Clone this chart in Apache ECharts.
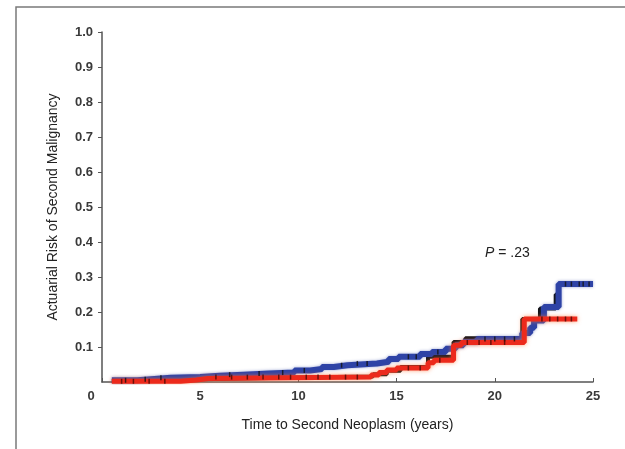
<!DOCTYPE html>
<html lang="en">
<head>
  <meta charset="UTF-8">
  <title>Second malignancy risk</title>
  <script src="https://cdn.jsdelivr.net/npm/echarts@6/dist/echarts.min.js"></script>
  <style>
    html, body {
      margin: 0;
      padding: 0;
      background: #fff;
    }

    #main {
      width: 625px;
      height: 449px;
    }
  </style>
</head>
<body>
<div id="main"></div>
<script>
  // step curves: time (years) where the level starts, and the level
  var blueTimes = [0.5, 1.8, 2.5, 3.5, 5.0, 6.0, 7.2, 8.5, 9.8, 10.6, 11.2, 11.8, 12.5, 14.0, 14.6, 15.1, 16.2, 16.8, 17.5, 18.0, 18.4, 19.1, 21.4, 21.8, 22.0, 22.5, 23.25, 25.0]
  var blueRisk = [0.005, 0.008, 0.012, 0.014, 0.018, 0.021, 0.024, 0.027, 0.033, 0.037, 0.043, 0.048, 0.053, 0.058, 0.066, 0.072, 0.080, 0.086, 0.095, 0.105, 0.114, 0.123, 0.140, 0.155, 0.176, 0.214, 0.280, 0.280]

  var redTimes = [0.5, 4.0, 4.8, 5.4, 13.7, 14.1, 14.5, 15.0, 16.6, 16.9, 17.9, 18.3, 21.5, 24.2]
  var redRisk = [0.002, 0.006, 0.010, 0.014, 0.020, 0.027, 0.034, 0.040, 0.055, 0.062, 0.105, 0.113, 0.180, 0.180]

  var blackTimes = [0.5, 4.0, 5.0, 10.0, 13.8, 14.5, 15.2, 16.6, 17.9, 18.5, 21.4, 22.3, 23.1, 23.3]
  var blackRisk = [0.003, 0.008, 0.013, 0.016, 0.022, 0.032, 0.043, 0.072, 0.114, 0.125, 0.180, 0.210, 0.250, 0.250]

  // censor marks (years)
  var blueCensor = [1.2, 2.2, 3.0, 6.5, 8.0, 9.2, 10.3, 12.2, 13.0, 13.5, 15.6, 16.0, 17.1, 19.5, 20.0, 20.5, 21.0, 23.6, 23.9, 24.3, 24.5, 24.8]
  var redCensor = [1.0, 1.6, 2.4, 3.2, 5.8, 6.6, 7.4, 8.2, 9.0, 9.6, 10.4, 11.0, 11.6, 12.4, 13.0, 15.6, 16.2, 17.2, 18.6, 19.2, 19.8, 20.5, 22.4, 22.8, 23.2, 23.6, 23.9]

  var xTicks = [0, 5, 10, 15, 20, 25]
  var yTicks = [0.1, 0.2, 0.3, 0.4, 0.5, 0.6, 0.7, 0.8, 0.9, 1.0]

  function pairs(times, risk) {
    var out = []
    for (var i = 0; i < times.length; i++) {
      out.push([times[i], risk[i]])
    }
    return out
  }

  // level of a step curve at time t
  function levelAt(times, risk, t) {
    var v = risk[0]
    for (var i = 0; i < times.length; i++) {
      if (times[i] <= t) v = risk[i]
    }
    return v
  }

  function censorPoints(list, times, risk) {
    return list.map(function (t) {
      return [t, levelAt(times, risk, t)]
    })
  }

  var myChart = echarts.init(document.getElementById('main'))

  var fontName = 'Liberation Sans, Arial, sans-serif'
  var labelFont = {
    fontFamily: fontName,
    fontSize: 13,
    fontWeight: 'bold',
    color: '#3a3a3a'
  }

  var option = {
    animation: false,
    backgroundColor: '#fff',
    grid: {
      left: 102,
      right: 32,
      top: 32,
      bottom: 67
    },
    graphic: [
      {
        type: 'rect',
        shape: {x: 16, y: 7, width: 700, height: 600},
        style: {fill: 'none', stroke: '#7a7a7a', lineWidth: 1.5},
        silent: true
      },
      {
        type: 'text',
        left: 485,
        top: 246,
        style: {
          text: '{i|P} = .23',
          fontFamily: fontName,
          fontSize: 14,
          fill: '#222',
          rich: {
            i: {fontStyle: 'italic', fontSize: 14, fontFamily: fontName, color: '#222'}
          }
        }
      }
    ],
    xAxis: {
      type: 'value',
      min: 0,
      max: 25,
      interval: 5,
      name: 'Time to Second Neoplasm (years)',
      nameLocation: 'middle',
      nameGap: 36,
      nameTextStyle: {
        fontFamily: fontName,
        fontSize: 14,
        color: '#222'
      },
      splitLine: {show: false},
      axisLine: {lineStyle: {color: '#555', width: 1.5}},
      axisTick: {inside: true, length: 4, lineStyle: {color: '#555'}},
      axisLabel: Object.assign({
        margin: 8,
        formatter: function (v) {
          return v === 0 ? '{z|0}' : String(v)
        },
        rich: {
          z: {padding: [0, 22, 0, 0], fontSize: 13, fontWeight: 'bold', color: '#3a3a3a', fontFamily: fontName}
        }
      }, labelFont)
    },
    yAxis: {
      type: 'value',
      min: 0,
      max: 1,
      interval: 0.1,
      name: 'Actuarial Risk of Second Malignancy',
      nameLocation: 'middle',
      nameGap: 42,
      nameTextStyle: {
        fontFamily: fontName,
        fontSize: 14,
        color: '#222'
      },
      splitLine: {show: false},
      axisLine: {show: true, lineStyle: {color: '#555', width: 1.5}},
      axisTick: {show: true, length: 4, lineStyle: {color: '#555'}},
      axisLabel: Object.assign({
        margin: 9,
        showMinLabel: false,
        formatter: function (v) {
          return yTicks.indexOf(Math.round(v * 10) / 10) > -1 ? v.toFixed(1) : ''
        }
      }, labelFont)
    },
    series: [
      {
        name: 'all',
        type: 'line',
        step: 'end',
        symbol: 'none',
        z: 1,
        lineStyle: {color: '#111', width: 4},
        data: pairs(blackTimes, blackRisk)
      },
      {
        name: 'blue',
        type: 'line',
        step: 'end',
        symbol: 'none',
        z: 2,
        lineStyle: {color: '#2e43a6', width: 6, shadowColor: 'rgba(46,67,166,0.5)', shadowBlur: 3},
        data: pairs(blueTimes, blueRisk)
      },
      {
        name: 'red',
        type: 'line',
        step: 'end',
        symbol: 'none',
        z: 3,
        lineStyle: {color: '#ec2a1c', width: 5, shadowColor: 'rgba(255,120,60,0.7)', shadowBlur: 4},
        data: pairs(redTimes, redRisk)
      },
      {
        name: 'blueCensor',
        type: 'scatter',
        symbol: 'rect',
        symbolSize: [1.5, 5],
        z: 4,
        itemStyle: {color: '#111'},
        data: censorPoints(blueCensor, blueTimes, blueRisk)
      },
      {
        name: 'redCensor',
        type: 'scatter',
        symbol: 'rect',
        symbolSize: [1.5, 5],
        z: 4,
        itemStyle: {color: '#4a0a05'},
        data: censorPoints(redCensor, redTimes, redRisk)
      }
    ]
  }

  myChart.setOption(option)
</script>
</body>
</html>
